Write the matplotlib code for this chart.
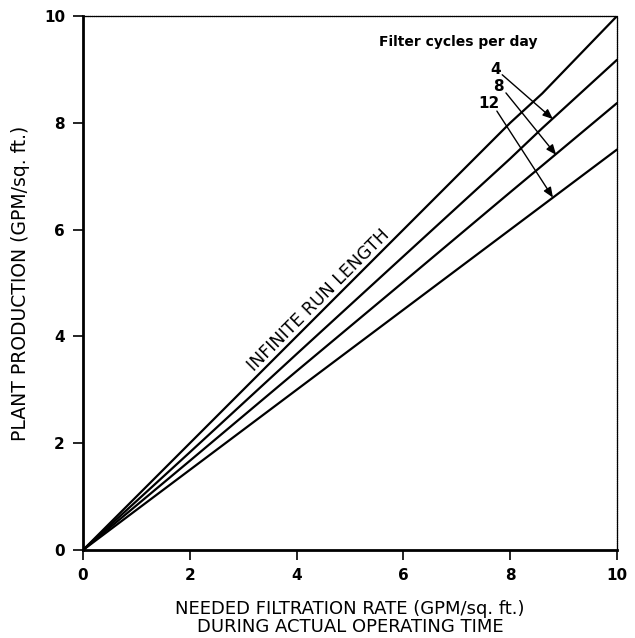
import matplotlib
matplotlib.use("Agg")
import matplotlib.pyplot as plt

# Data
rate = [0, 2, 4, 6, 8, 8.6, 10]
infinite = [0, 2.0, 4.0, 6.0, 8.0, 8.55, 10.0]
cycles4 = [0, 1.83, 3.67, 5.5, 7.33, 7.9, 9.18]
cycles8 = [0, 1.67, 3.35, 5.02, 6.70, 7.2, 8.37]
cycles12 = [0, 1.5, 3.0, 4.5, 6.0, 6.45, 7.5]
cycle_labels = ["4", "8", "12"]
ticks = [0, 2, 4, 6, 8, 10]

fig = plt.figure(figsize=(6.35, 6.38), dpi=100)
ax = fig.add_axes([0.1307, 0.1379, 0.841, 0.837])

for ys in (infinite, cycles4, cycles8, cycles12):
    ax.plot(rate, ys, color="black", lw=1.6, solid_capstyle="round")

ax.set_xlim(0, 10)
ax.set_ylim(0, 10)
ax.set_xticks(ticks)
ax.set_yticks(ticks)
ax.set_xticklabels([str(t) for t in ticks], fontsize=11, fontweight="bold")
ax.set_yticklabels([str(t) for t in ticks], fontsize=11, fontweight="bold")
ax.tick_params(direction="out", length=7, width=1.2, pad=6)

ax.spines["left"].set_linewidth(2.0)
ax.spines["bottom"].set_linewidth(2.0)
ax.spines["top"].set_linewidth(0.9)
ax.spines["right"].set_linewidth(0.9)
ax.spines["top"].set_linestyle((0, (1, 0.5)))
ax.spines["right"].set_linestyle((0, (1, 0.5)))

ax.set_ylabel("PLANT PRODUCTION (GPM/sq. ft.)", fontsize=13.5, fontweight="medium", labelpad=10)
ax.set_xlabel("NEEDED FILTRATION RATE (GPM/sq. ft.)\nDURING ACTUAL OPERATING TIME",
              fontsize=13, fontweight="medium", labelpad=12, linespacing=1.0)

ax.text(4.42, 4.68, "INFINITE RUN LENGTH", rotation=45, rotation_mode="anchor",
        ha="center", va="center", fontsize=12.5, fontweight="medium")
ax.text(5.55, 9.51, "Filter cycles per day", fontsize=10, fontweight="bold", va="center", ha="left")

label_pos = [(7.72, 9.0), (7.77, 8.68), (7.6, 8.36)]
arrow_start = [(7.85, 8.9), (7.92, 8.56), (7.75, 8.22)]
arrow_end = [(8.8, 8.07), (8.86, 7.40), (8.8, 6.6)]
for lab, lp, s, e in zip(cycle_labels, label_pos, arrow_start, arrow_end):
    ax.text(lp[0], lp[1], lab, fontsize=11, fontweight="bold", ha="center", va="center")
    ax.annotate("", xy=e, xytext=s,
                arrowprops=dict(arrowstyle="-|>,head_length=0.6,head_width=0.25",
                                color="black", lw=1.0, shrinkA=0, shrinkB=0))

fig.savefig("out.png", dpi=100, facecolor="white")
